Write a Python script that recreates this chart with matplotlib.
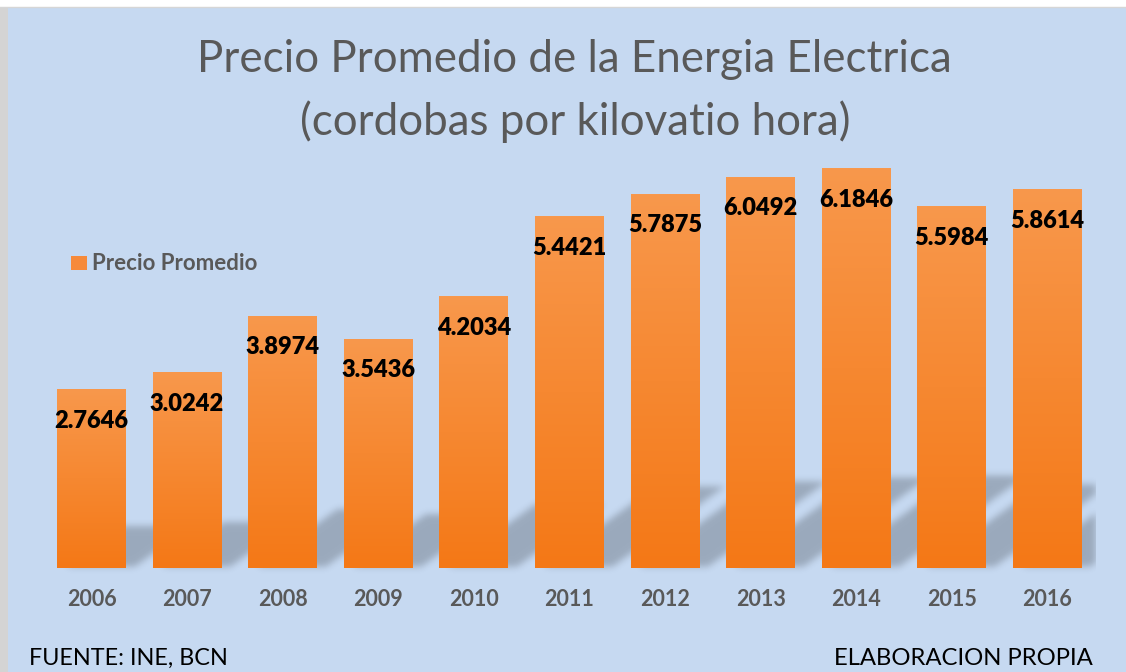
import numpy as np
import matplotlib.pyplot as plt
from matplotlib.patches import Rectangle, Patch
from matplotlib.lines import Line2D

plt.rcParams['font.family'] = ['Lato', 'DejaVu Sans']

# datos del grafico
anios = ['2006', '2007', '2008', '2009', '2010', '2011', '2012', '2013', '2014', '2015', '2016']
precio = [2.7646, 3.0242, 3.8974, 3.5436, 4.2034, 5.4421, 5.7875, 6.0492, 6.1846, 5.5984, 5.8614]

W, H, DPI = 1126, 672, 100
gris = '#595959'
fig = plt.figure(figsize=(W / DPI, H / DPI), dpi=DPI, facecolor='white')

# fondo azul con borde gris a la izquierda
fig.patches.append(Rectangle((0, 0), 8 / W, 665 / H, transform=fig.transFigure,
                             facecolor='#D4D4D4', lw=0, zorder=-3))
fig.patches.append(Rectangle((8 / W, 0), 1 - 8 / W, 665 / H, transform=fig.transFigure,
                             facecolor='#C6D9F1', lw=0, zorder=-2))
fig.add_artist(Line2D([0, 1], [665.5 / H, 665.5 / H], color='#D6D6D6', lw=1))

ymin, ymax = -0.1, 7
ax = fig.add_axes([43.7 / W, (H - 574.5) / H, 1051.6 / W, 458.5 / H])
ax.set_facecolor('none')
for s in ax.spines.values():
    s.set_visible(False)

x = np.arange(len(anios))
ancho = 0.72

# sombra en perspectiva (diagonal arriba a la derecha), difuminada
sx = 1051.6 / 11          # px por unidad en x
sy = 458.5 / (ymax - ymin)  # px por unidad en y
nx, ny = 1052, 470
gx = np.linspace(-0.5, 10.5, nx)
gy = np.linspace(ymin - 0.1, ymax, ny)
XX, YY = np.meshgrid(gx, gy)
mascara = np.zeros_like(XX)
k = 1.4 * sy / sx
off = 7.4 / sx
for xi, v in zip(x, precio):
    hs = 0.23 * v
    izq = xi - ancho / 2 + off + k * YY
    der = xi + ancho / 2 + off + k * YY
    mascara[(YY >= 0) & (YY <= hs) & (XX >= izq) & (XX <= der)] = 1
sig = 3.5
t = np.arange(-12, 13)
kern = np.exp(-t ** 2 / (2 * sig ** 2))
kern /= kern.sum()
mascara = np.apply_along_axis(lambda r: np.convolve(r, kern, mode='same'), 1, mascara)
mascara = np.apply_along_axis(lambda c: np.convolve(c, kern, mode='same'), 0, mascara)
sombra = np.zeros((ny, nx, 4))
sombra[..., 3] = 0.22 * mascara
ax.imshow(sombra, extent=[-0.5, 10.5, ymin - 0.1, ymax], origin='lower',
          aspect='auto', zorder=1, interpolation='bilinear')

# barras con degradado vertical
barras = ax.bar(x, precio, width=ancho, color='none', lw=0, zorder=3)
arriba = np.array([248, 152, 76]) / 255
abajo = np.array([244, 120, 22]) / 255
f = np.linspace(0, 1, 256)[:, None, None]
degradado = arriba * (1 - f) + abajo * f
for b in barras:
    x0, y0 = b.get_x(), b.get_y()
    ax.imshow(degradado, extent=[x0, x0 + b.get_width(), y0, y0 + b.get_height()],
              aspect='auto', zorder=3, interpolation='bilinear')

# etiquetas de datos
for xi, v in zip(x, precio):
    ax.annotate(f'{v:.4f}', (xi, v), xytext=(0, -38), textcoords='offset pixels',
                ha='center', va='baseline', fontsize=17, fontweight='heavy',
                color='black', zorder=5)

ax.set_xlim(-0.5, 10.5)
ax.set_ylim(ymin, ymax)
ax.set_yticks([])
ax.set_xticks(x, labels=anios, va='baseline', fontsize=15.5, fontweight='bold', color=gris)
ax.tick_params(axis='x', length=0, pad=22.7)

ax.legend(handles=[Patch(facecolor='#F68A3A', label='Precio Promedio')],
          loc='center left', bbox_to_anchor=(71 / W, 1 - 264 / H),
          bbox_transform=fig.transFigure, frameon=False, borderpad=0,
          borderaxespad=0, handlelength=0.7, handleheight=0.6,
          handletextpad=0.25, prop={'weight': 'bold', 'size': 16},
          labelcolor=gris)

# titulo
fig.text(574 / W, 1 - 72 / H, 'Precio Promedio de la Energia Electrica',
         ha='center', va='baseline', fontsize=31.6, color=gris)
fig.text(575 / W, 1 - 135 / H, '(cordobas por kilovatio hora)',
         ha='center', va='baseline', fontsize=31.6, color=gris)

# pie
fig.text(29 / W, 1 - 665 / H, 'FUENTE: INE, BCN', ha='left', va='baseline',
         fontsize=16.8, color='black')
fig.text(1093 / W, 1 - 665 / H, 'ELABORACION PROPIA', ha='right', va='baseline',
         fontsize=17.2, color='black')

fig.savefig('out.png', dpi=DPI, facecolor=fig.get_facecolor())
plt.close(fig)
